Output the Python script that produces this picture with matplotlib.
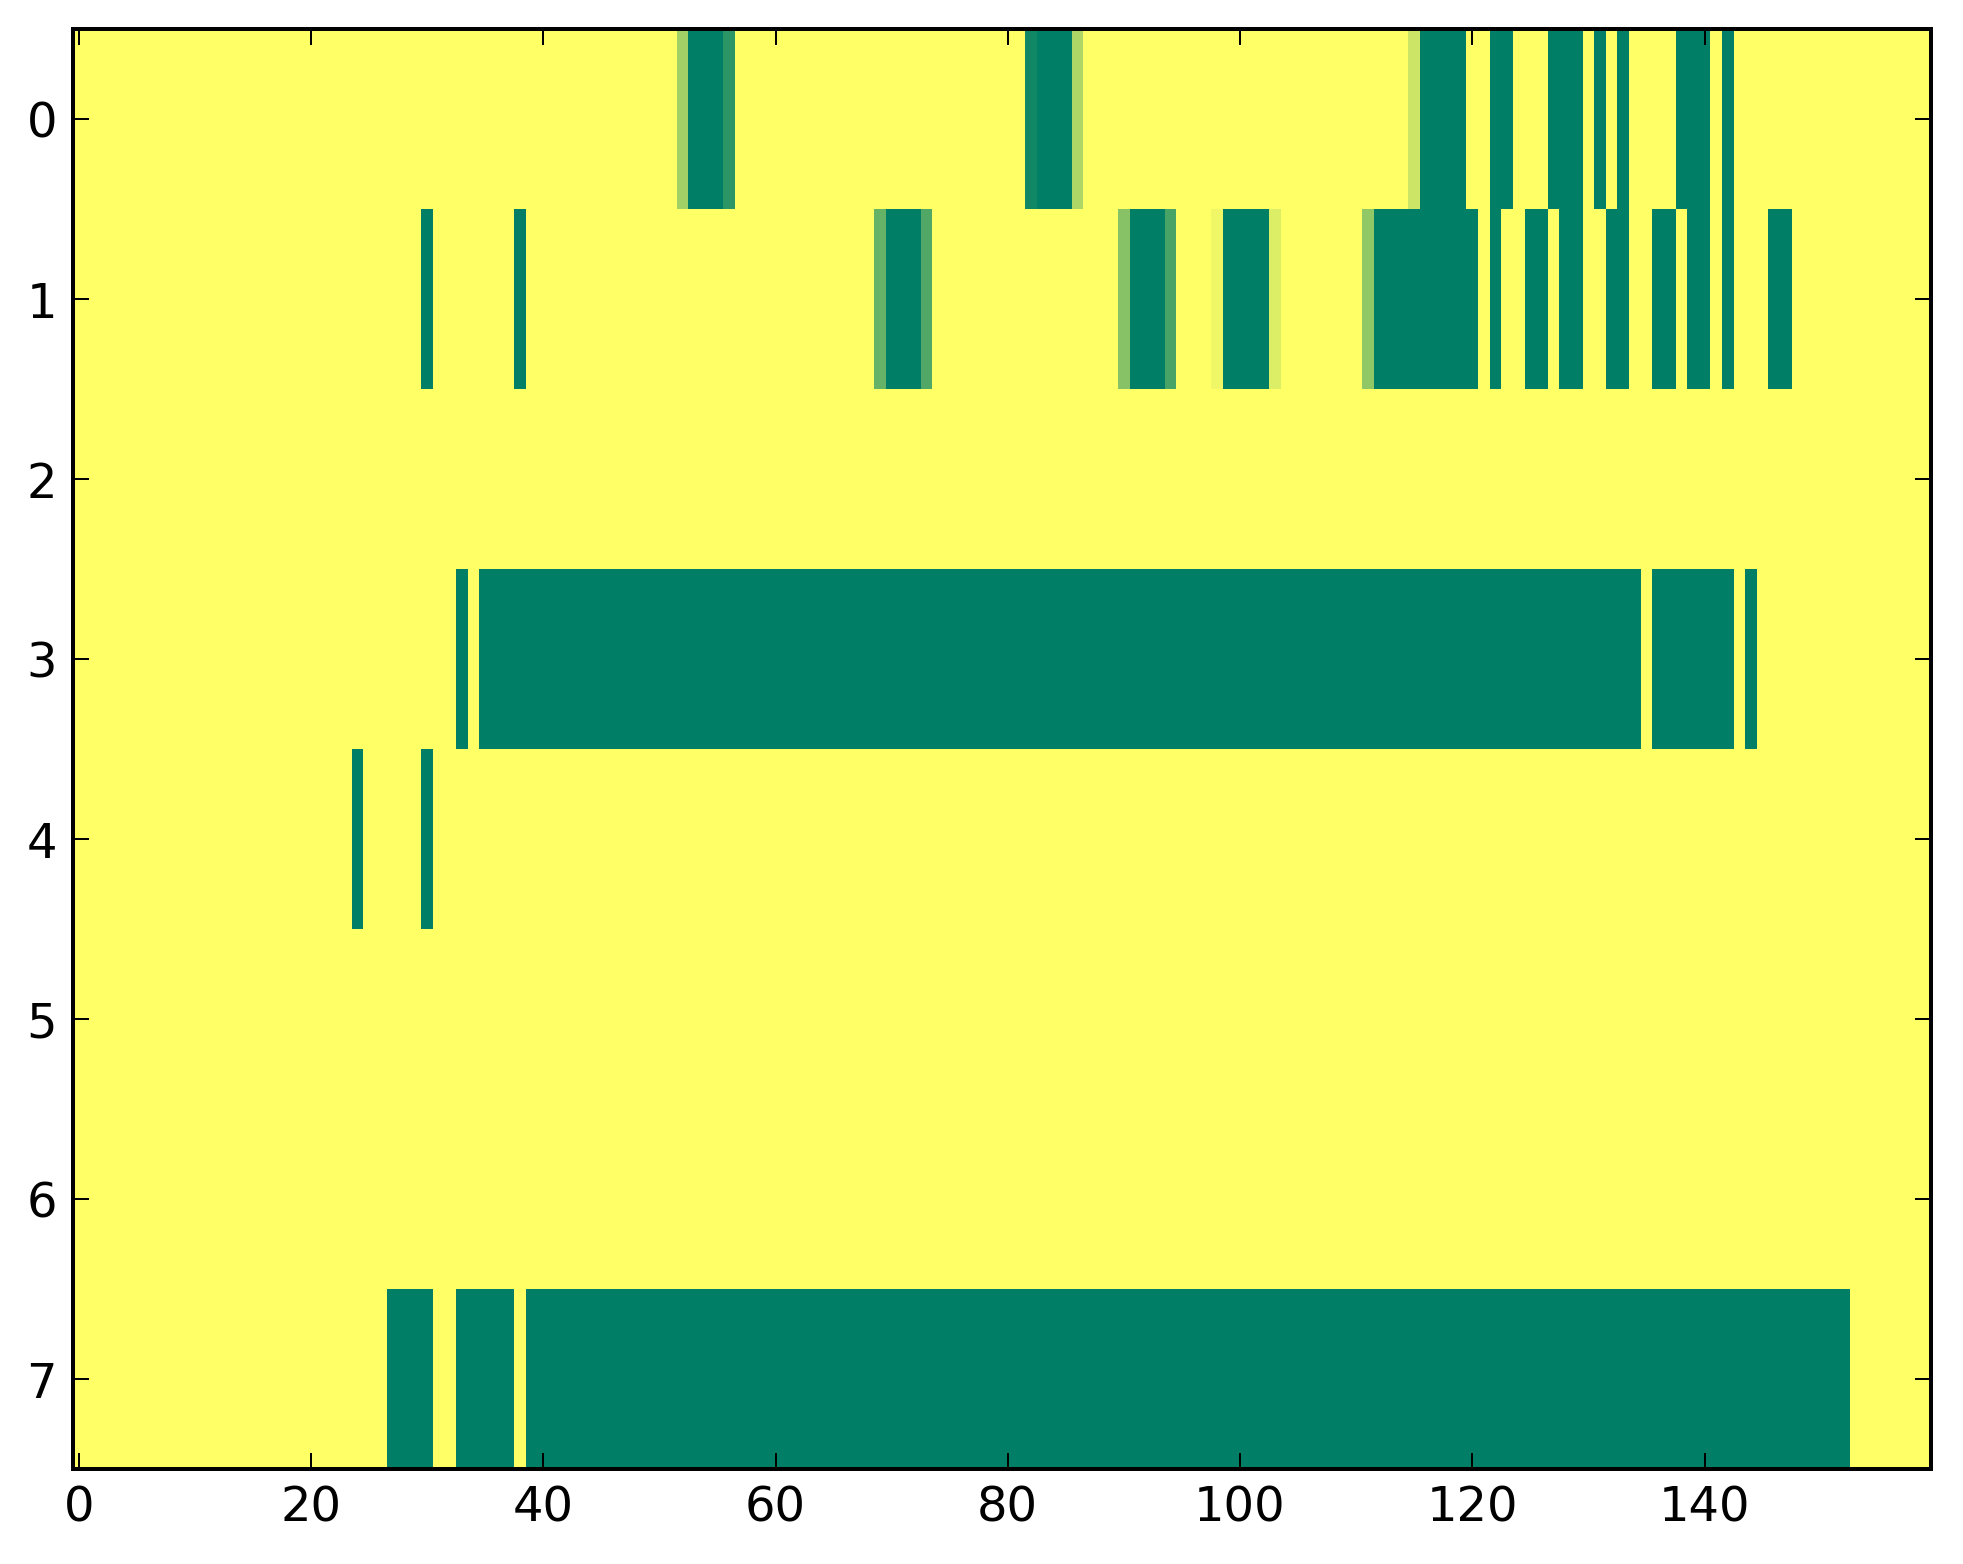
import numpy as np
import matplotlib
matplotlib.use('Agg')
import matplotlib.pyplot as plt

# Datos: tramos (col_inicio, col_fin, valor) por fila, 8 filas x 160 columnas
n_rows, n_cols = 8, 160

row0 = [(52, 52, 0.37), (53, 55, 1.0), (56, 56, 0.83),
        (82, 82, 0.93), (83, 85, 1.0), (86, 86, 0.32),
        (115, 115, 0.20), (116, 119, 1.0), (122, 123, 1.0), (127, 129, 1.0),
        (131, 131, 1.0), (133, 133, 1.0), (138, 140, 1.0), (142, 142, 1.0)]
row1 = [(30, 30, 1.0), (38, 38, 1.0),
        (69, 69, 0.60), (70, 72, 1.0), (73, 73, 0.68),
        (90, 90, 0.47), (91, 93, 1.0), (94, 94, 0.72),
        (98, 98, 0.06), (99, 102, 1.0), (103, 103, 0.14),
        (111, 111, 0.43), (112, 120, 1.0), (122, 122, 1.0), (125, 126, 1.0),
        (128, 129, 1.0), (132, 133, 1.0), (136, 137, 1.0), (139, 140, 1.0),
        (142, 142, 1.0), (146, 147, 1.0)]
row2 = []
row3 = [(33, 33, 1.0), (35, 134, 1.0), (136, 142, 1.0), (144, 144, 1.0)]
row4 = [(24, 24, 1.0), (30, 30, 1.0)]
row5 = []
row6 = []
row7 = [(27, 30, 1.0), (33, 37, 1.0), (39, 152, 1.0)]

rows = [row0, row1, row2, row3, row4, row5, row6, row7]

data = np.zeros((n_rows, n_cols))
for i, runs in enumerate(rows):
    for a, b, v in runs:
        data[i, a:b + 1] = v

# Estilo clasico
plt.rcParams['font.family'] = 'DejaVu Sans'
plt.rcParams['font.size'] = 12
plt.rcParams['axes.linewidth'] = 1.0
plt.rcParams['xtick.direction'] = 'in'
plt.rcParams['ytick.direction'] = 'in'
plt.rcParams['xtick.top'] = True
plt.rcParams['ytick.right'] = True
plt.rcParams['xtick.major.size'] = 4
plt.rcParams['ytick.major.size'] = 4
plt.rcParams['xtick.major.width'] = 0.5
plt.rcParams['ytick.major.width'] = 0.5
plt.rcParams['xtick.major.pad'] = 4
plt.rcParams['ytick.major.pad'] = 4

dpi = 288
fig = plt.figure(figsize=(1963 / dpi, 1564 / dpi), dpi=dpi)
ax = fig.add_axes([73 / 1963, 95 / 1564, 1858 / 1963, 1440 / 1564])
ax.imshow(data, cmap='summer_r', vmin=0, vmax=1, aspect='auto',
          interpolation='nearest')
ax.set_xticks(np.arange(0, 141, 20))
ax.set_yticks(np.arange(0, 8))
ax.set_xlim(-0.5, n_cols - 0.5)
ax.set_ylim(n_rows - 0.5, -0.5)

fig.savefig('out.png', dpi=dpi)
